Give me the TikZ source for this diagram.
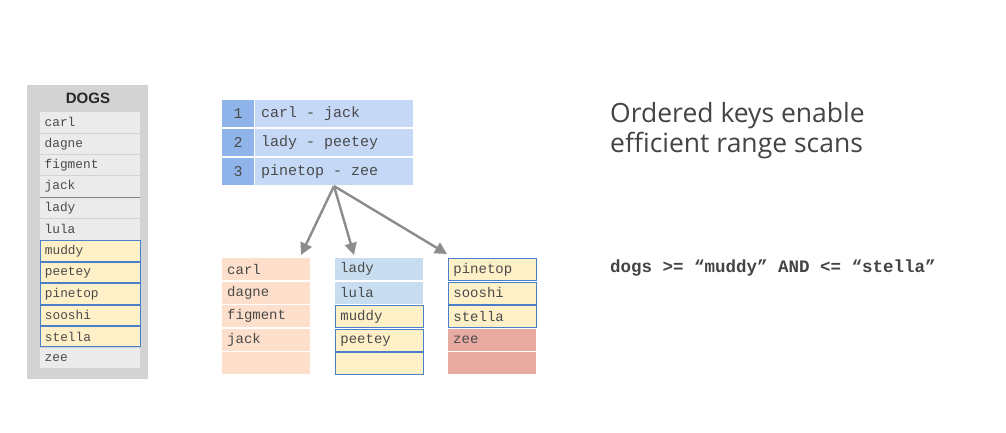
\documentclass[tikz,border=0pt]{standalone}
\usepackage{fontspec}
\setmainfont{Open Sans}
\newfontfamily\monof{Liberation Mono}
\newfontfamily\headf{Liberation Sans}
\usetikzlibrary{arrows.meta}
\newcommand\msp{\hspace*{0.6em}}
\definecolor{txt}{HTML}{444444}
\definecolor{ctxt}{HTML}{4A4A4A}
\definecolor{panel}{HTML}{D3D3D3}
\definecolor{gcell}{HTML}{EBEBEB}
\definecolor{ycell}{HTML}{FFF0C8}
\definecolor{bborder}{HTML}{4A7EC9}
\definecolor{numcol}{HTML}{8EB4EA}
\definecolor{rngcol}{HTML}{C5D9F6}
\definecolor{peach}{HTML}{FDDFCB}
\definecolor{lblue}{HTML}{C8DEF0}
\definecolor{rcell}{HTML}{E8ABA2}
\definecolor{arrowc}{HTML}{8C8C8C}
\begin{document}
\begin{tikzpicture}[x=1pt,y=-1pt,
  cellbase/.style={rectangle, anchor=north west, inner xsep=5pt, inner ysep=0pt,
    align=left, font=\monof\fontsize{12.8}{14}\selectfont, text=ctxt},
  dogcell/.style={cellbase, minimum width=100pt, minimum height=20.4pt, text width=90pt, fill=gcell},
  dogsel/.style={dogcell, fill=ycell, draw=bborder, line width=0.8pt},
  leafcell/.style={cellbase, minimum width=88pt, minimum height=22pt, text width=78pt,
    font=\monof\fontsize{14}{16}\selectfont},
  leafsel/.style={leafcell, fill=ycell, draw=bborder, line width=0.8pt},
  idxnum/.style={cellbase, minimum width=32pt, minimum height=27pt, inner xsep=0pt, text width=32pt, align=center, fill=numcol, font=\monof\fontsize{15}{17}\selectfont},
  idxrng/.style={cellbase, minimum width=158pt, minimum height=27pt, inner xsep=6pt, text width=146pt, fill=rngcol, font=\monof\fontsize{15}{17}\selectfont},
  ptr/.style={draw=arrowc, line width=2.4pt, -{Triangle[length=12pt,width=12pt]}}
]
\useasboundingbox[fill=white] (0,0) rectangle (1006,432);

% DOGS panel
\node[rectangle, fill=panel, anchor=north west, minimum width=121pt, minimum height=294pt, inner sep=0pt] (panel) at (27,85) {};
\node[font=\headf\bfseries\fontsize{15}{17}\selectfont, text=black!85] (hdr) at (88,98.5) {DOGS};
\node[dogcell] (d1) at (39.5,112) {carl};
\node[dogcell] (d2) at (39.5,133.4) {dagne};
\node[dogcell] (d3) at (39.5,154.8) {figment};
\node[dogcell] (d4) at (39.5,176.2) {jack};
\node[dogcell] (d5) at (39.5,197.6) {lady};
\node[dogcell] (d6) at (39.5,219.0) {lula};
\node[dogsel] (d7) at (39.5,240.4) {muddy};
\node[dogsel] (d8) at (39.5,261.8) {peetey};
\node[dogsel] (d9) at (39.5,283.2) {pinetop};
\node[dogsel] (d10) at (39.5,304.6) {sooshi};
\node[dogsel] (d11) at (39.5,326.0) {stella};
\node[dogcell] (d12) at (39.5,347.4) {zee};
\draw[draw=gray, line width=1pt] (d4.south west) -- (d4.south east);

% Index
\node[idxnum] (n1) at (222,100) {1};
\node[idxrng] (r1) at (255,100) {carl\msp-\msp jack};
\node[idxnum] (n2) at (222,129) {2};
\node[idxrng] (r2) at (255,129) {lady\msp-\msp peetey};
\node[idxnum] (n3) at (222,158) {3};
\node[idxrng] (r3) at (255,158) {pinetop\msp-\msp zee};
\coordinate (src) at (334,186);

% Leaf page 1
\node[leafcell, fill=peach] (a1) at (222,258) {carl};
\node[leafcell, fill=peach] (a2) at (222,281.5) {dagne};
\node[leafcell, fill=peach] (a3) at (222,305) {figment};
\node[leafcell, fill=peach] (a4) at (222,328.5) {jack};
\node[leafcell, fill=peach] (a5) at (222,352) {};
% Leaf page 2
\node[leafcell, fill=lblue] (b1) at (335,258) {lady};
\node[leafcell, fill=lblue] (b2) at (335,281.5) {lula};
\node[leafsel] (b3) at (335,305) {muddy};
\node[leafsel] (b4) at (335,328.5) {peetey};
\node[leafsel] (b5) at (335,352) {};
% Leaf page 3
\node[leafsel] (c1) at (448,258) {pinetop};
\node[leafsel] (c2) at (448,281.5) {sooshi};
\node[leafsel] (c3) at (448,305) {stella};
\node[leafcell, fill=rcell] (c4) at (448,328.5) {zee};
\node[leafcell, fill=rcell] (c5) at (448,352) {};

% pointers
\coordinate (t1) at (301,255);
\coordinate (t2) at (354,255);
\coordinate (t3) at (447,254);
\draw[ptr] (src) -- (t1);
\draw[ptr] (src) -- (t2);
\draw[ptr] (src) -- (t3);

% Title
\node[anchor=base west, align=left, text=txt, font=\fontsize{26.5}{29.5}\selectfont, inner sep=0pt] (title) at (610,152) {Ordered keys enable\\efficient range scans};
\node[anchor=west, text=txt, font=\monof\bfseries\fontsize{17.5}{20}\selectfont, inner sep=0pt] (query) at (610,268) {dogs >= “muddy” AND <= “stella”};
\end{tikzpicture}
\end{document}
